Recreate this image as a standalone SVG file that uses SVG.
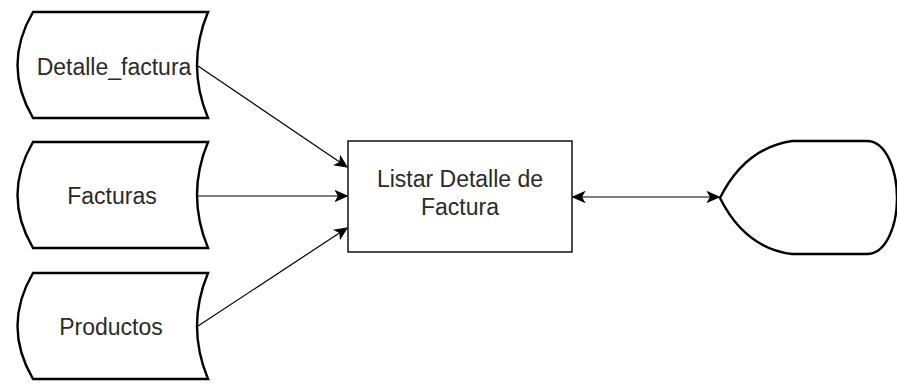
<svg xmlns="http://www.w3.org/2000/svg" width="897" height="387" viewBox="0 0 897 387">
<style>
.shape{fill:#fff;stroke:#000;stroke-width:2.4}
.box{fill:#fff;stroke:#000;stroke-width:1.4}
.lbl{font-family:"Liberation Sans",Arial,sans-serif;font-size:23px;fill:#2a2a2a;text-anchor:middle}
.edge{fill:none;stroke:#000;stroke-width:1.2}
</style>
<defs>
<marker id="arr" viewBox="0 0 10 10" refX="9" refY="5" markerWidth="14" markerHeight="14" markerUnits="userSpaceOnUse" orient="auto-start-reverse">
<path d="M0,0.5 L10,5 L0,9.5 L2.5,5 Z" fill="#000"/>
</marker>
</defs>
<rect width="897" height="387" fill="#fff"/>
<g id="detalle_factura">
<path class="shape" d="M33,12 L208,12 Q186,65 208,118 L33,118 Q2,65 33,12 Z"/>
<text class="lbl" x="114" y="75">Detalle_factura</text>
</g>
<g id="facturas">
<path class="shape" d="M33,142 L208,142 Q186,195 208,248 L33,248 Q2,195 33,142 Z"/>
<text class="lbl" x="112" y="204">Facturas</text>
</g>
<g id="productos">
<path class="shape" d="M33,273 L208,273 Q186,326 208,379 L33,379 Q2,326 33,273 Z"/>
<text class="lbl" x="111" y="335">Productos</text>
</g>
<g id="listar">
<rect class="box" x="348" y="141" width="224" height="111"/>
<text class="lbl" x="460" y="187">Listar Detalle de</text>
<text class="lbl" x="460" y="215">Factura</text>
</g>
<g id="display">
<path class="shape" d="M720,198 Q745,148 792,141 L867,141 C886,141 897,170 897,198 C897,226 886,254 867,254 L792,254 Q745,248 720,198 Z"/>
</g>
<g id="connectors">
<line class="edge" x1="198" y1="66" x2="347" y2="167" marker-end="url(#arr)"/>
<line class="edge" x1="198" y1="196" x2="347" y2="196" marker-end="url(#arr)"/>
<line class="edge" x1="198" y1="326" x2="347" y2="228" marker-end="url(#arr)"/>
<line class="edge" x1="573" y1="197" x2="719" y2="197" marker-start="url(#arr)" marker-end="url(#arr)"/>
</g>
</svg>
